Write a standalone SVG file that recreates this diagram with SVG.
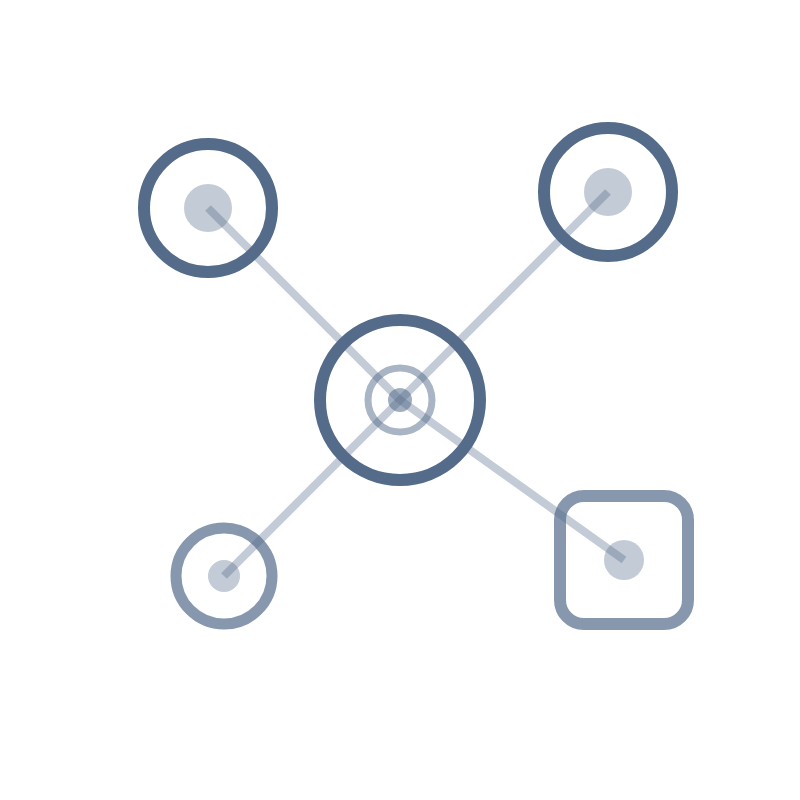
<svg xmlns="http://www.w3.org/2000/svg" width="800" height="800" viewBox="0 0 800 800">
<style>
.ring{fill:none;stroke:#546b8a;stroke-width:12}
.soft{fill:none;stroke:#546b8a;stroke-opacity:0.7}
.dot{fill:#546b8a;fill-opacity:0.35}
.link{stroke:#546b8a;stroke-opacity:0.35;stroke-width:8;stroke-linecap:butt}
</style>
<rect width="800" height="800" fill="#fff"/>
<g id="dots">
<circle class="dot" cx="208" cy="208" r="24"/>
<circle class="dot" cx="608" cy="192" r="24"/>
<circle class="dot" cx="224" cy="576" r="16"/>
<circle class="dot" cx="624" cy="560" r="20"/>
</g>
<g id="hub-inner">
<circle cx="400" cy="400" r="32" fill="none" stroke="#546b8a" stroke-opacity="0.5" stroke-width="7"/>
<circle cx="400" cy="400" r="12" fill="#546b8a" fill-opacity="0.55"/>
</g>
<g id="connectors">
<line class="link" x1="400" y1="400" x2="208" y2="208"/>
<line class="link" x1="400" y1="400" x2="608" y2="192"/>
<line class="link" x1="400" y1="400" x2="224" y2="576"/>
<line class="link" x1="400" y1="400" x2="624" y2="560"/>
</g>
<g id="hub">
<circle class="ring" cx="400" cy="400" r="80"/>
</g>
<g id="node-tl"><circle class="ring" cx="208" cy="208" r="64"/></g>
<g id="node-tr"><circle class="ring" cx="608" cy="192" r="64"/></g>
<g id="node-bl"><circle class="soft" cx="224" cy="576" r="48" stroke-width="11"/></g>
<g id="node-br"><rect class="soft" x="560" y="496" width="128" height="128" rx="24" stroke-width="12"/></g>
</svg>
